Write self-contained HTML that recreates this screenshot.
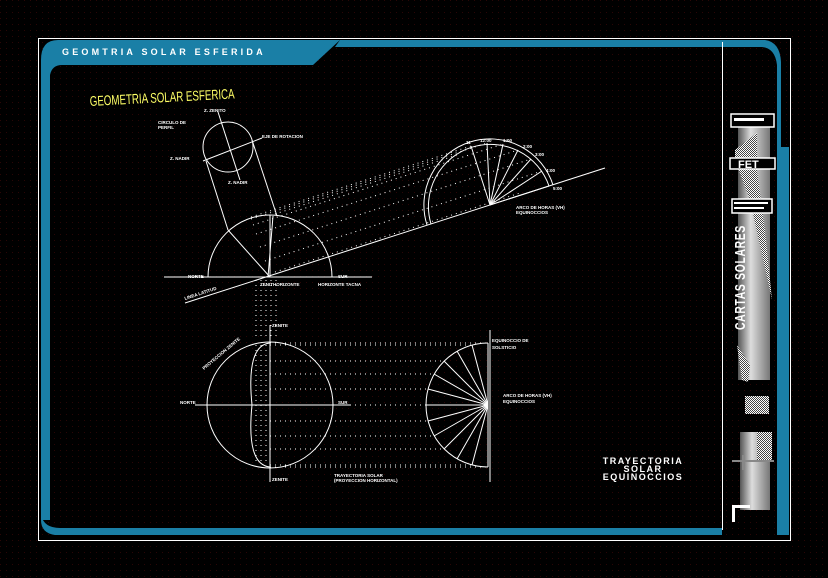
<!DOCTYPE html>
<html><head><meta charset="utf-8"><style>
html,body{margin:0;padding:0;background:#000;}
svg{display:block;}
text{font-family:"Liberation Sans",sans-serif;fill:#fff;font-weight:bold;}
</style></head><body>
<svg width="828" height="578" viewBox="0 0 828 578" xmlns="http://www.w3.org/2000/svg">
<defs>
<pattern id="bg" width="6" height="6" patternUnits="userSpaceOnUse"><rect width="1" height="1" fill="#2a0606"/></pattern>
<linearGradient id="g1" x1="0" x2="1"><stop offset="0" stop-color="#555"/><stop offset=".4" stop-color="#ddd"/><stop offset="1" stop-color="#777"/></linearGradient>
<pattern id="chk" width="2" height="2" patternUnits="userSpaceOnUse"><rect width="2" height="2" fill="#fff"/><rect width="1" height="1" fill="#444"/><rect x="1" y="1" width="1" height="1" fill="#444"/></pattern>
</defs>
<rect width="828" height="578" fill="#000"/>
<rect width="828" height="578" fill="url(#bg)"/>
<!-- frame -->
<rect x="38.5" y="38.5" width="752" height="502" fill="none" stroke="#fff" stroke-width="1"/>
<!-- blue bands -->
<g fill="#1a7fa6">
<path d="M58 40 H340 L313 65 H62 Q52 65 50 75 V520 H41 V60 Q41 40 58 40 Z"/>
<path d="M340 40 H765 Q780 42 781 62 V147 H777 V65 Q775 48 762 47 H335 Z"/>
<rect x="777" y="147" width="12" height="388"/>
<path d="M41 515 Q44 528 60 528 H722 V535 H55 Q41 533 41 520 Z"/>
</g>
<line x1="722.5" y1="42" x2="722.5" y2="530" stroke="#fff"/>
<text x="62" y="55" font-size="9" letter-spacing="3.2">GEOMTRIA SOLAR ESFERIDA</text>
<text x="90" y="106" font-size="14" style="fill:#ffff66;font-weight:normal" transform="rotate(-3 90 106)" textLength="145" lengthAdjust="spacingAndGlyphs">GEOMETRIA SOLAR ESFERICA</text>

<g stroke="#fff" stroke-width="1" fill="none">
<!-- top small globe -->
<circle cx="228" cy="147" r="25"/>
<line x1="218" y1="112" x2="240" y2="180"/>
<line x1="203" y1="161" x2="262" y2="138"/>
<line x1="206" y1="161" x2="228" y2="230"/>
<line x1="252" y1="140" x2="277" y2="216"/>
<line x1="228" y1="230" x2="270" y2="277"/>
<!-- big semicircle -->
<path d="M208 277 A62 62 0 0 1 332 277"/>
<line x1="164" y1="277" x2="372" y2="277"/>
<line x1="270" y1="215" x2="270" y2="277"/>
<line x1="273" y1="216" x2="268" y2="277"/>
<!-- inclined line -->
<line x1="185" y1="303" x2="605" y2="168"/>
<!-- hour arc top -->
<path d="M549 186 A62 62 0 0 0 431 224"/>
<path d="M553 185 A66 66 0 0 0 427 225"/>
<line x1="490" y1="205" x2="549" y2="186"/>
<line x1="490" y1="205" x2="542" y2="171"/>
<line x1="490" y1="205" x2="531" y2="159"/>
<line x1="490" y1="205" x2="518" y2="150"/>
<line x1="490" y1="205" x2="503" y2="144"/>
<line x1="490" y1="205" x2="487" y2="143"/>
<line x1="490" y1="205" x2="471" y2="146"/>
</g>
<g stroke="#fff" stroke-width="1" stroke-dasharray="1 4" fill="none">
<line x1="265" y1="261" x2="542" y2="171"/>
<line x1="260" y1="247" x2="531" y2="159"/>
<line x1="256" y1="234" x2="518" y2="150"/>
<line x1="253" y1="225" x2="503" y2="144"/>
<line x1="251" y1="219" x2="487" y2="143"/>
<line x1="251" y1="217" x2="471" y2="146"/>
<line x1="275" y1="214" x2="460" y2="154"/>
<line x1="275" y1="272" x2="520" y2="193"/>
<!-- verticals -->
<line x1="256" y1="280" x2="256" y2="340"/>
<line x1="261" y1="280" x2="261" y2="340"/>
<line x1="266" y1="280" x2="266" y2="340"/>
<line x1="271" y1="280" x2="271" y2="340"/>
<line x1="276" y1="280" x2="276" y2="340"/>
<line x1="256" y1="345" x2="256" y2="465"/>
<line x1="261" y1="345" x2="261" y2="465"/>
<line x1="266" y1="345" x2="266" y2="465"/>
<!-- bottom horizontal dotted -->
<line x1="270" y1="343" x2="488" y2="343"/>
<line x1="270" y1="345" x2="472" y2="345"/>
<line x1="270" y1="361" x2="444" y2="361"/>
<line x1="270" y1="374" x2="432" y2="374"/>
<line x1="270" y1="389" x2="428" y2="389"/>
<line x1="350" y1="405" x2="426" y2="405"/>
<line x1="270" y1="421" x2="428" y2="421"/>
<line x1="270" y1="436" x2="432" y2="436"/>
<line x1="270" y1="449" x2="444" y2="449"/>
<line x1="270" y1="465" x2="472" y2="465"/>
<line x1="270" y1="467" x2="488" y2="467"/>
</g>
<g stroke="#fff" stroke-width="1" fill="none">
<circle cx="270" cy="405" r="63"/>
<line x1="270" y1="325" x2="270" y2="482"/>
<line x1="195" y1="405" x2="350" y2="405"/>
<path d="M270 343 Q246 345 252 405 Q246 465 270 467"/>
<line x1="490" y1="330" x2="490" y2="482"/>
<path d="M488 343 A62 62 0 0 0 488 467"/>
<line x1="488" y1="405" x2="488" y2="343"/>
<line x1="488" y1="405" x2="472" y2="345"/>
<line x1="488" y1="405" x2="457" y2="351"/>
<line x1="488" y1="405" x2="444" y2="361"/>
<line x1="488" y1="405" x2="434" y2="374"/>
<line x1="488" y1="405" x2="428" y2="389"/>
<line x1="488" y1="405" x2="426" y2="405"/>
<line x1="488" y1="405" x2="428" y2="421"/>
<line x1="488" y1="405" x2="434" y2="436"/>
<line x1="488" y1="405" x2="444" y2="449"/>
<line x1="488" y1="405" x2="457" y2="459"/>
<line x1="488" y1="405" x2="472" y2="465"/>
<line x1="488" y1="405" x2="488" y2="467"/>
</g>
<!-- labels -->
<g font-size="4.5">
<text x="204" y="112">Z. ZENITO</text>
<text x="158" y="124">CIRCULO DE</text>
<text x="158" y="129">PERFIL</text>
<text x="262" y="138">EJE DE ROTACION</text>
<text x="170" y="160">Z. NADIR</text>
<text x="228" y="184">Z. NADIR</text>
<text x="188" y="278">NORTE</text>
<text x="338" y="278">SUR</text>
<text x="260" y="286">ZENITHORIZONTE</text>
<text x="318" y="286">HORIZONTE TACNA</text>
<text x="185" y="300" transform="rotate(-18 185 300)">LINEA LATITUD</text>
<text x="516" y="209">ARCO DE HORAS (VH)</text>
<text x="516" y="214">EQUINOCCIOS</text>
<text x="480" y="142">12:00</text><text x="503" y="142">1:00</text><text x="523" y="148">2:00</text><text x="535" y="156">3:00</text><text x="546" y="172">4:00</text><text x="553" y="190">5:00</text><text x="466" y="144">11</text>
<text x="204" y="370" transform="rotate(-40 204 370)">PROYECCION ZENITE</text>
<text x="180" y="404">NORTE</text>
<text x="338" y="404">SUR</text>
<text x="272" y="327">ZENITE</text>
<text x="272" y="481">ZENITE</text>
<text x="334" y="477">TRAYECTORIA SOLAR</text>
<text x="334" y="482">(PROYECCION HORIZONTAL)</text>
<text x="492" y="342">EQUINOCCIO DE</text>
<text x="492" y="349">SOLSTICIO</text>
<text x="503" y="397">ARCO DE HORAS (VH)</text>
<text x="503" y="403">EQUINOCCIOS</text>
</g>
<g font-size="9" text-anchor="middle" letter-spacing="1.5">
<text x="643" y="464">TRAYECTORIA</text>
<text x="643" y="472">SOLAR</text>
<text x="643" y="480">EQUINOCCIOS</text>
</g>
<!-- right panel art -->
<rect x="738" y="125" width="32" height="255" fill="url(#g1)"/>
<path d="M735 150 L757 133 L757 170 L765 230 L772 300 L750 200 L735 160 Z" fill="url(#chk)"/>
<path d="M737 345 L750 365 L748 382 L742 380 Z" fill="url(#chk)"/>
<rect x="731" y="114" width="43" height="13" fill="#000" stroke="#fff" stroke-width="1.5"/>
<rect x="734" y="118" width="30" height="3" fill="#fff"/>
<rect x="730" y="158" width="45" height="11" fill="#000" stroke="#fff" stroke-width="1.5"/>
<text x="738" y="168" font-size="11">FET</text>
<rect x="732" y="199" width="40" height="14" fill="#000" stroke="#fff" stroke-width="1.5"/>
<rect x="734" y="202" width="34" height="2" fill="#fff"/><rect x="734" y="207" width="30" height="2" fill="#fff"/>
<text x="745" y="330" font-size="15" transform="rotate(-90 745 330)" textLength="105" lengthAdjust="spacingAndGlyphs" letter-spacing="1">CARTAS SOLARES</text>
<rect x="745" y="396" width="24" height="18" fill="url(#chk)"/>
<path d="M740 432 H770 V510 H740 Z" fill="url(#g1)"/>
<rect x="757" y="432" width="15" height="30" fill="url(#chk)"/>
<rect x="732" y="460" width="42" height="2" fill="#888"/>
<rect x="742" y="455" width="3" height="15" fill="#888"/>
<rect x="732" y="505" width="18" height="3" fill="#fff"/>
<rect x="732" y="505" width="3" height="17" fill="#fff"/>
</svg>
</body></html>
